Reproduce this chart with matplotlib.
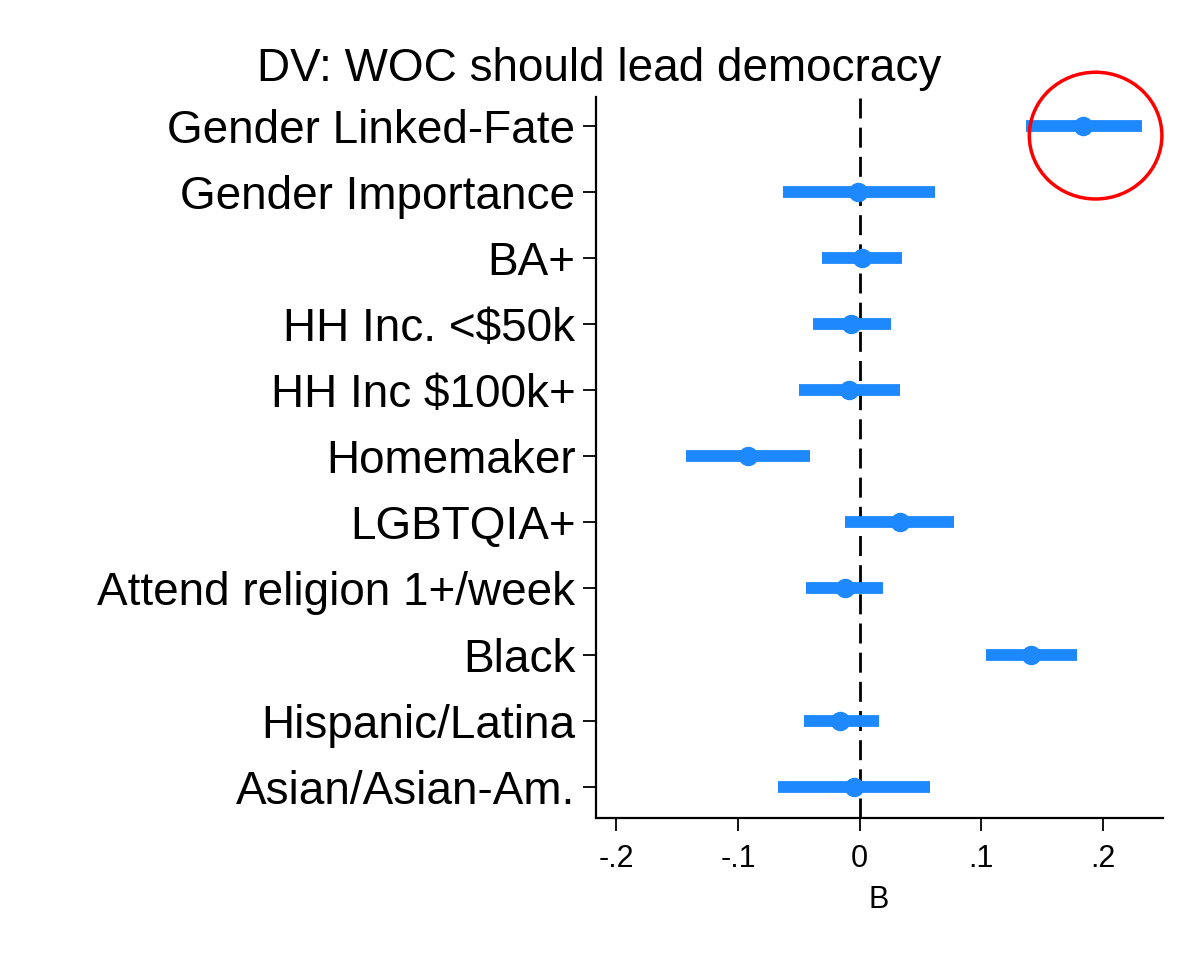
import numpy as np
import matplotlib
matplotlib.use("Agg")
import matplotlib.pyplot as plt
from matplotlib.patches import Ellipse

plt.rcParams['font.family'] = ['Liberation Sans', 'DejaVu Sans']

labels = ['Gender Linked-Fate', 'Gender Importance', 'BA+', 'HH Inc. <$50k',
          'HH Inc $100k+', 'Homemaker', 'LGBTQIA+', 'Attend religion 1+/week',
          'Black', 'Hispanic/Latina', 'Asian/Asian-Am.']
coef = [0.184, -0.001, 0.002, -0.007, -0.009, -0.092, 0.033, -0.012, 0.141, -0.016, -0.005]
ci_low = [0.137, -0.063, -0.031, -0.038, -0.050, -0.143, -0.012, -0.044, 0.104, -0.046, -0.067]
ci_high = [0.232, 0.062, 0.035, 0.026, 0.033, -0.041, 0.078, 0.019, 0.179, 0.016, 0.058]
xticks = [-0.2, -0.1, 0, 0.1, 0.2]
xticklabels = ['-.2', '-.1', '0', '.1', '.2']

blue = '#1e88ff'

fig = plt.figure(figsize=(11.96, 9.57), dpi=100)
ax = fig.add_axes([0.498, 0.145, 0.474, 0.754])

ypos = np.arange(1, len(labels) + 1)
ax.axvline(0, color='black', linestyle=(0, (7.2, 3.3)), linewidth=2, zorder=1)
ax.hlines(ypos, ci_low, ci_high, color=blue, linewidth=8.5, zorder=2)
ax.plot(coef, ypos, 'o', color=blue, markersize=13, zorder=3)

# highlight circle
ax.add_patch(Ellipse((0.194, 1.14), 0.109, 1.92, fill=False, edgecolor='red',
                     linewidth=2.5, clip_on=False, zorder=4))

ax.set_xlim(-0.217, 0.249)
ax.set_ylim(11.48, 0.55)
ax.set_yticks(ypos)
ax.set_yticklabels(labels, fontsize=33)
ax.set_xticks(xticks)
ax.set_xticklabels(xticklabels, fontsize=22)
ax.set_xlabel('B', fontsize=22, labelpad=8)
ax.set_title('DV: WOC should lead democracy', fontsize=33, x=0.007, pad=11)

for side in ['top', 'right']:
    ax.spines[side].set_visible(False)
for side in ['left', 'bottom']:
    ax.spines[side].set_linewidth(1.6)
ax.tick_params(axis='both', direction='out', length=9.5, width=1.3)
ax.tick_params(axis='y', pad=5)
ax.tick_params(axis='x', pad=9)

fig.savefig('out.png', dpi=100)
